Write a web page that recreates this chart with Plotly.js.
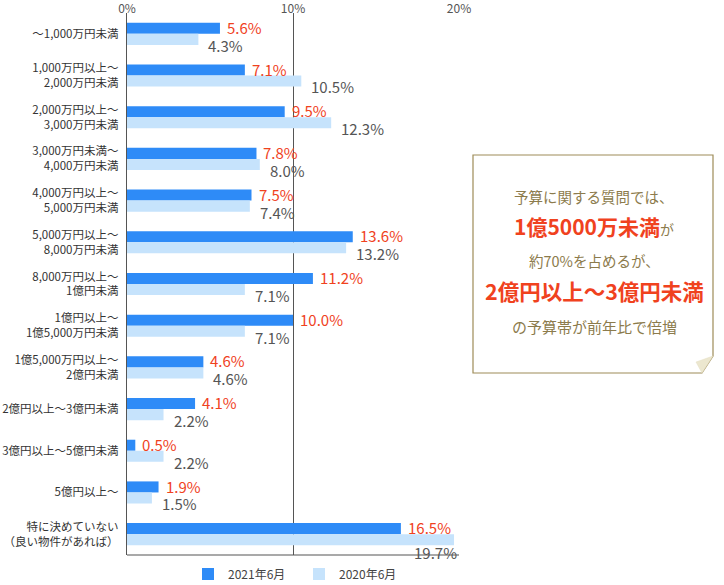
<!DOCTYPE html>
<html>
<head>
<meta charset="utf-8">
<script src="https://cdn.plot.ly/plotly-3.0.1.min.js"></script>
<style>html,body{margin:0;padding:0;background:#fff;}#chart{width:724px;height:585px;}</style>
</head>
<body>
<div id="chart"></div>
<script>
const categories = [
  "～1,000万円未満",
  "1,000万円以上～<br>2,000万円未満",
  "2,000万円以上～<br>3,000万円未満",
  "3,000万円未満～<br>4,000万円未満",
  "4,000万円以上～<br>5,000万円未満",
  "5,000万円以上～<br>8,000万円未満",
  "8,000万円以上～<br>1億円未満",
  "1億円以上～<br>1億5,000万円未満",
  "1億5,000万円以上～<br>2億円未満",
  "2億円以上～3億円未満",
  "3億円以上～5億円未満",
  "5億円以上～",
  "特に決めていない<br>（良い物件があれば）"
];
const values2021 = [5.6, 7.1, 9.5, 7.8, 7.5, 13.6, 11.2, 10.0, 4.6, 4.1, 0.5, 1.9, 16.5];
const values2020 = [4.3, 10.5, 12.3, 8.0, 7.4, 13.2, 7.1, 7.1, 4.6, 2.2, 2.2, 1.5, 19.7];
const seriesNames = ["2021年6月", "2020年6月"];
const xTicks = [0, 10, 20];
const xTickLabels = ["0%", "10%", "20%"];

const FONT = '"Noto Sans CJK JP", "Noto Sans", sans-serif';
const idx = categories.map((_, i) => i);

// plot area in pixels
const L = 127, R = 459, T = 13, B = 555, W = 724, H = 585;
const px = x => (x - L) / (R - L);
const py = y => (B - y) / (B - T);

const traces = [
  {type: 'bar', orientation: 'h', name: seriesNames[0], x: values2021, y: idx,
   marker: {color: '#2e8bf7'}, hoverinfo: 'x'},
  {type: 'bar', orientation: 'h', name: seriesNames[1], x: values2020, y: idx,
   marker: {color: '#c6e3fc'}, hoverinfo: 'x'}
];

const annotations = [];
values2021.forEach((v, i) => {
  annotations.push({x: v, y: i - 0.13, xref: 'x', yref: 'y', text: v.toFixed(1) + '%',
    showarrow: false, xanchor: 'left', yanchor: 'middle', xshift: 5, yshift: 1,
    font: {family: FONT, size: 15, color: '#f0421e'}});
});
values2020.forEach((v, i) => {
  const over = v > 19;
  annotations.push({x: over ? 20 : v, y: i + 0.13, xref: 'x', yref: 'y', text: v.toFixed(1) + '%',
    showarrow: false, xanchor: over ? 'right' : 'left', yanchor: 'middle',
    xshift: over ? 0 : 8, yshift: over ? -13 : -6,
    font: {family: FONT, size: 15, color: '#555555'}});
});

// text box
const olive = '#8c7b4c', red = '#f0421e';
const boxLines = [
  {y: 197, text: '予算に関する質問では、', size: 14.5, color: olive},
  {y: 226, text: '<b>1億5000万未満</b><span style="font-size:14px;color:' + olive + '">が</span>', size: 21, color: red},
  {y: 260, text: '約70%を占めるが、', size: 14.5, color: olive},
  {y: 291, text: '<b>2億円以上～3億円未満</b>', size: 21.5, color: red},
  {y: 326, text: 'の予算帯が前年比で倍増', size: 15, color: olive}
];
boxLines.forEach(l => {
  annotations.push({x: px(594), y: py(l.y), xref: 'paper', yref: 'paper', text: l.text,
    showarrow: false, xanchor: 'center', yanchor: 'middle',
    font: {family: FONT, size: l.size, color: l.color}});
});

const shapes = [
  // bottom frame line
  {type: 'line', xref: 'paper', yref: 'paper', x0: 0, x1: 1, y0: 0, y1: 0,
   line: {color: '#555555', width: 1.2}},
  // box with folded corner
  {type: 'path', xref: 'paper', yref: 'paper',
   path: `M ${px(473)} ${py(155)} L ${px(713)} ${py(155)} L ${px(713)} ${py(356)} L ${px(702)} ${py(373)} L ${px(473)} ${py(373)} Z`,
   fillcolor: '#ffffff', line: {color: '#9e8c58', width: 1.2}},
  {type: 'path', xref: 'paper', yref: 'paper',
   path: `M ${px(713)} ${py(356)} L ${px(696)} ${py(362)} L ${px(702)} ${py(373)} Z`,
   fillcolor: '#ece7cf', line: {color: '#e4dec4', width: 0.5}}
];

const layout = {
  width: W, height: H,
  margin: {l: L, r: W - R, t: T, b: H - B, pad: 0, autoexpand: false},
  paper_bgcolor: '#ffffff', plot_bgcolor: '#ffffff',
  font: {family: FONT, color: '#444444'},
  barmode: 'group', bargap: 0.47, bargroupgap: 0,
  showlegend: true,
  legend: {orientation: 'h', x: px(188), y: py(574), xanchor: 'left', yanchor: 'middle',
    entrywidth: 66, entrywidthmode: 'pixels', traceorder: 'normal', itemwidth: 30,
    font: {family: FONT, size: 12, color: '#444444'}, bgcolor: 'rgba(0,0,0,0)'},
  xaxis: {range: [0, 20], side: 'top', tickvals: xTicks, ticktext: xTickLabels,
    showgrid: true, gridcolor: '#555555', gridwidth: 1, zeroline: false,
    showline: false, ticks: '', ticklabelstandoff: -3,
    tickfont: {family: FONT, size: 12, color: '#555555'},
    fixedrange: true},
  yaxis: {range: [12.5, -0.5], tickvals: idx, ticktext: categories,
    showgrid: false, zeroline: false, showline: true, linecolor: '#555555', linewidth: 1.2,
    ticks: '', ticklabelstandoff: 5, tickfont: {family: FONT, size: 11.5, color: '#333333'},
    fixedrange: true},
  annotations: annotations,
  shapes: shapes
};

Plotly.newPlot('chart', traces, layout, {displayModeBar: false, staticPlot: true});
</script>
</body>
</html>
